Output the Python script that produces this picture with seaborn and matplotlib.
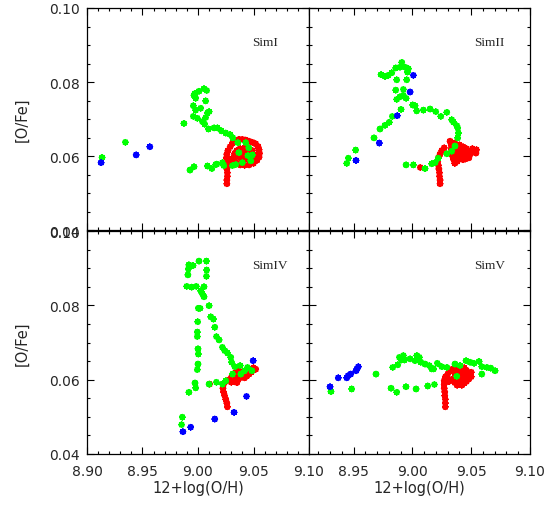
import numpy as np
import pandas as pd
import matplotlib
matplotlib.use("Agg")
import matplotlib.pyplot as plt
from matplotlib.ticker import MultipleLocator, FixedLocator
import seaborn as sns

sns.set_style("ticks")
plt.rcParams['font.family'] = ['DejaVu Sans']

# ---------------- data ----------------
panel_names = ["SimI", "SimII", "SimIV", "SimV"]

# SimI
simI_red_x = [9.026, 9.026, 9.0265, 9.0265, 9.026, 9.0265, 9.027, 9.0255, 9.026, 9.027, 9.029, 9.031,
              9.034, 9.037, 9.040, 9.043, 9.046, 9.049, 9.052, 9.054, 9.055, 9.0555, 9.055, 9.053,
              9.050, 9.046, 9.042, 9.038, 9.035, 9.033, 9.032, 9.033, 9.035, 9.038, 9.042, 9.045,
              9.047, 9.047, 9.045, 9.041, 9.038, 9.037, 9.040, 9.043, 9.030, 9.028, 9.049, 9.051, 9.050]
simI_red_y = [0.0525, 0.0535, 0.0545, 0.0555, 0.0565, 0.0575, 0.0585, 0.0595, 0.0605, 0.0615, 0.0625, 0.0635,
              0.0642, 0.0645, 0.0645, 0.0643, 0.0640, 0.0637, 0.0633, 0.0626, 0.0617, 0.0607, 0.0597, 0.0588,
              0.0580, 0.0576, 0.0575, 0.0576, 0.0580, 0.0588, 0.0597, 0.0607, 0.0615, 0.0620, 0.0622, 0.0618,
              0.0610, 0.0600, 0.0592, 0.0590, 0.0595, 0.0603, 0.0608, 0.0605, 0.0580, 0.0592, 0.0615, 0.0603, 0.0593]
simI_green_x = [8.9136, 8.9346, 8.9873, 8.9964, 8.9979, 8.9973, 9.0009, 9.0054, 9.0078, 9.0069, 8.9958, 8.9979,
                9.0024, 8.9958, 8.9994, 9.0040, 9.0085, 9.0100, 9.0069, 9.0060, 9.0094, 9.0145, 9.0175, 9.0211,
                9.0250, 9.0289, 9.0313, 8.9928, 8.9964, 9.0085, 9.0124, 9.0169, 9.0160, 9.0232, 9.0220,
                9.0359, 9.0430, 9.0458, 9.0368, 9.0450, 9.0400, 9.0340, 9.0310, 9.0476, 9.0490]
simI_green_y = [0.0596, 0.0637, 0.0688, 0.0764, 0.0756, 0.0769, 0.0775, 0.0782, 0.0777, 0.0749, 0.0736, 0.0724,
                0.0729, 0.0707, 0.0702, 0.0693, 0.0716, 0.0720, 0.0704, 0.0686, 0.0673, 0.0676, 0.0676, 0.0668,
                0.0662, 0.0658, 0.0649, 0.0562, 0.0571, 0.0573, 0.0566, 0.0578, 0.0577, 0.0574, 0.0582,
                0.0636, 0.0636, 0.0622, 0.0609, 0.0601, 0.0582, 0.0577, 0.0574, 0.0587, 0.0603]
simI_blue_x = [8.9127, 8.9443, 8.9566]
simI_blue_y = [0.0582, 0.0603, 0.0625]

# SimII
simII_red_x = [9.0067, 9.0235, 9.0235, 9.023, 9.023, 9.0225, 9.022, 9.0215, 9.022, 9.0235, 9.025, 9.027,
               9.032, 9.033, 9.033, 9.034, 9.034, 9.035, 9.036, 9.038, 9.037, 9.037, 9.037, 9.036,
               9.040, 9.040, 9.040, 9.040, 9.043, 9.043, 9.043, 9.043, 9.046, 9.046, 9.046, 9.049,
               9.049, 9.052, 9.054, 9.0545, 9.051, 9.048, 9.045]
simII_red_y = [0.0569, 0.0525, 0.0535, 0.0545, 0.0555, 0.0565, 0.0575, 0.0585, 0.0595, 0.0605, 0.0615, 0.0622,
               0.0640, 0.0630, 0.0620, 0.0610, 0.0600, 0.0590, 0.0580, 0.0585, 0.0598, 0.0612, 0.0625, 0.0635,
               0.0630, 0.0618, 0.0605, 0.0592, 0.0590, 0.0603, 0.0615, 0.0625, 0.0620, 0.0610, 0.0600, 0.0612,
               0.0605, 0.0612, 0.0608, 0.0617, 0.0620, 0.0595, 0.0592]
simII_green_x = [8.9441, 8.9455, 8.9517, 8.9673, 8.9724, 8.9767, 8.9803, 8.9829, 8.9903, 8.9866, 8.9894, 8.9923,
                 8.9946, 8.9858, 8.9923, 8.9733, 8.9767, 8.9795, 8.9824, 8.9866, 8.9858, 8.9894, 8.9909, 8.9937,
                 8.9957, 8.9951, 8.9966, 9.0002, 9.0022, 9.0036, 9.0093, 9.0150, 9.0198, 9.0241, 9.0292,
                 9.0334, 9.0348, 9.0377, 9.0385, 9.0391, 9.0385, 9.0362, 9.0334, 9.0292, 9.0220, 9.0192,
                 9.0164, 9.0107, 9.0008, 8.9946]
simII_green_y = [0.0580, 0.0594, 0.0616, 0.0649, 0.0673, 0.0683, 0.0691, 0.0707, 0.0726, 0.0753, 0.0760, 0.0764,
                 0.0756, 0.0778, 0.0780, 0.0820, 0.0815, 0.0818, 0.0825, 0.0806, 0.0838, 0.0840, 0.0853, 0.0840,
                 0.0827, 0.0806, 0.0836, 0.0738, 0.0736, 0.0722, 0.0724, 0.0727, 0.0720, 0.0707, 0.0718,
                 0.0698, 0.0692, 0.0682, 0.0676, 0.0662, 0.0649, 0.0627, 0.0613, 0.0606, 0.0594, 0.0582,
                 0.0579, 0.0566, 0.0576, 0.0576]
simII_blue_x = [9.0008, 8.9980, 8.9871, 8.9718, 8.9520]
simII_blue_y = [0.0818, 0.0773, 0.0709, 0.0635, 0.0588]

# SimIV
simIV_red_x = [9.0265, 9.026, 9.025, 9.024, 9.023, 9.0225, 9.023, 9.025, 9.028, 9.030, 9.032, 9.032,
               9.034, 9.034, 9.036, 9.036, 9.036, 9.038, 9.038, 9.040, 9.040, 9.042, 9.042, 9.044,
               9.044, 9.046, 9.046, 9.048, 9.048, 9.050, 9.050, 9.052, 9.030, 9.033, 9.035, 9.0105]
simIV_red_y = [0.0527, 0.0537, 0.0547, 0.0557, 0.0567, 0.0577, 0.0587, 0.0595, 0.0600, 0.0605, 0.0602, 0.0612,
               0.0608, 0.0620, 0.0600, 0.0613, 0.0625, 0.0605, 0.0618, 0.0610, 0.0622, 0.0605, 0.0615, 0.0610,
               0.0620, 0.0615, 0.0625, 0.0620, 0.0628, 0.0625, 0.0632, 0.0628, 0.0593, 0.0597, 0.0592, 0.0588]
simIV_green_x = [8.9852, 8.9859, 8.9918, 8.9979, 8.9973, 8.9994, 9.0000, 9.0003, 9.0000, 8.9994, 8.9994, 8.9997,
                 9.0003, 9.0018, 8.9985, 8.9943, 8.9898, 8.9909, 8.9913, 8.9918, 8.9955, 9.0009, 9.0076, 9.0078,
                 9.0076, 9.0054, 9.0024, 9.0040, 9.0054, 9.0100, 9.0115, 9.0139, 9.0151, 9.0166, 9.0190,
                 9.0220, 9.0241, 9.0265, 9.0295, 9.0302, 9.0332, 9.0380, 9.0446, 9.0485, 9.0420, 9.0311,
                 9.0386, 9.0100, 9.0166, 9.0220, 9.0250]
simIV_green_y = [0.0479, 0.0499, 0.0566, 0.0578, 0.0591, 0.0627, 0.0642, 0.0669, 0.0683, 0.0716, 0.0728, 0.0756,
                 0.0792, 0.0792, 0.0851, 0.0849, 0.0851, 0.0882, 0.0898, 0.0909, 0.0907, 0.0919, 0.0919, 0.0895,
                 0.0878, 0.0850, 0.0839, 0.0831, 0.0823, 0.0799, 0.0769, 0.0763, 0.0741, 0.0716, 0.0707,
                 0.0687, 0.0678, 0.0672, 0.0660, 0.0647, 0.0635, 0.0638, 0.0633, 0.0624, 0.0624, 0.0615,
                 0.0615, 0.0588, 0.0593, 0.0588, 0.0597]
simIV_blue_x = [8.9864, 8.9934, 9.0151, 9.0325, 9.0437, 9.0497]
simIV_blue_y = [0.0460, 0.0472, 0.0494, 0.0512, 0.0555, 0.0651]

# SimV
simV_red_x = [9.028, 9.028, 9.028, 9.0275, 9.0275, 9.027, 9.027, 9.027, 9.028, 9.030, 9.032, 9.034,
              9.036, 9.036, 9.036, 9.036, 9.038, 9.038, 9.038, 9.038, 9.040, 9.040, 9.040, 9.040,
              9.042, 9.042, 9.042, 9.042, 9.044, 9.044, 9.044, 9.044, 9.046, 9.046, 9.046, 9.048,
              9.048, 9.050, 9.050, 9.033, 9.031]
simV_red_y = [0.0527, 0.0537, 0.0547, 0.0557, 0.0567, 0.0577, 0.0587, 0.0597, 0.0607, 0.0615, 0.0622, 0.0628,
              0.0635, 0.0620, 0.0605, 0.0592, 0.0585, 0.0598, 0.0612, 0.0628, 0.0635, 0.0620, 0.0605, 0.0590,
              0.0585, 0.0598, 0.0612, 0.0628, 0.0632, 0.0618, 0.0603, 0.0590, 0.0595, 0.0610, 0.0625, 0.0615,
              0.0602, 0.0608, 0.0620, 0.0600, 0.0595]
simV_green_x = [8.9307, 8.9483, 8.9690, 8.9818, 8.9866, 8.9945, 9.0031, 9.0130, 9.0187, 8.9832, 8.9875, 8.9889,
                8.9923, 8.9932, 8.9905, 8.9980, 9.0023, 9.0037, 9.0059, 9.0071, 9.0107, 9.0144, 9.0164,
                9.0180, 9.0212, 9.0249, 9.0292, 9.0362, 9.0405, 9.0456, 9.0490, 9.0524, 9.0567, 9.0590,
                9.0632, 9.0666, 9.0703, 9.0590, 9.0377]
simV_green_y = [0.0568, 0.0575, 0.0615, 0.0577, 0.0566, 0.0581, 0.0575, 0.0583, 0.0587, 0.0633, 0.0640, 0.0660,
                0.0665, 0.0653, 0.0653, 0.0656, 0.0651, 0.0665, 0.0660, 0.0647, 0.0642, 0.0638, 0.0629,
                0.0629, 0.0644, 0.0635, 0.0633, 0.0642, 0.0638, 0.0651, 0.0647, 0.0644, 0.0649, 0.0635,
                0.0633, 0.0631, 0.0624, 0.0615, 0.0609]
simV_blue_x = [8.9299, 8.9369, 8.9441, 8.9454, 8.9475, 8.9520, 8.9540, 8.9530]
simV_blue_y = [0.0581, 0.0605, 0.0605, 0.0611, 0.0615, 0.0624, 0.0635, 0.0630]

xticks_left = [8.90, 8.95, 9.00, 9.05, 9.10]
xticks_right = [8.95, 9.00, 9.05, 9.10]
yticks = [0.04, 0.06, 0.08, 0.10]

def make_df(rx, ry, gx, gy, bx, by):
    return pd.DataFrame({
        "x": list(rx) + list(gx) + list(bx),
        "y": list(ry) + list(gy) + list(by),
        "grp": ["red"] * len(rx) + ["green"] * len(gx) + ["blue"] * len(bx),
    })

dfs = [
    make_df(simI_red_x, simI_red_y, simI_green_x, simI_green_y, simI_blue_x, simI_blue_y),
    make_df(simII_red_x, simII_red_y, simII_green_x, simII_green_y, simII_blue_x, simII_blue_y),
    make_df(simIV_red_x, simIV_red_y, simIV_green_x, simIV_green_y, simIV_blue_x, simIV_blue_y),
    make_df(simV_red_x, simV_red_y, simV_green_x, simV_green_y, simV_blue_x, simV_blue_y),
]
palette = {"red": "#ff0000", "green": "#00ff00", "blue": "#0000ff"}

# ---------------- figure ----------------
W, H = 554, 506
fig = plt.figure(figsize=(W / 100, H / 100), dpi=100)

def ax_rect(x0, y0, x1, y1):
    return [x0 / W, 1 - y1 / H, (x1 - x0) / W, (y1 - y0) / H]

rects = [ax_rect(87, 9, 309, 231), ax_rect(309, 9, 530, 231),
         ax_rect(87, 232, 309, 455), ax_rect(309, 232, 530, 455)]
xlims = [(8.90, 9.10), (8.912, 9.10), (8.90, 9.10), (8.912, 9.10)]

asterisk = (8, 2, 0)
for i, (df, r, xl, name) in enumerate(zip(dfs, rects, xlims, panel_names)):
    ax = fig.add_axes(r)
    sns.scatterplot(data=df, x="x", y="y", hue="grp", palette=palette, marker=asterisk,
                    s=12, linewidth=1.4, legend=False, ax=ax)
    ax.set_xlim(*xl)
    ax.set_ylim(0.04, 0.10)
    ax.xaxis.set_major_locator(FixedLocator(xticks_left if i % 2 == 0 else xticks_right))
    ax.xaxis.set_minor_locator(MultipleLocator(0.01))
    ax.yaxis.set_major_locator(FixedLocator(yticks))
    ax.yaxis.set_minor_locator(MultipleLocator(0.005))
    ax.tick_params(which="both", direction="in", top=True, right=True, bottom=True, left=True,
                   width=0.8, color="black")
    ax.tick_params(which="major", length=5)
    ax.tick_params(which="minor", length=2.5)
    ax.tick_params(axis="x", which="major", pad=7, labelsize=10)
    ax.tick_params(axis="y", which="major", pad=5, labelsize=10)
    for sp in ax.spines.values():
        sp.set_linewidth(0.9)
        sp.set_color("black")
    if i % 2 == 0:
        ax.set_yticklabels(["%.2f" % v for v in yticks])
        ax.set_ylabel("[O/Fe]", fontsize=10.5, labelpad=14)
    else:
        ax.set_yticklabels([])
        ax.set_ylabel("")
    if i >= 2:
        ax.set_xticklabels(["%.2f" % v for v in (xticks_left if i % 2 == 0 else xticks_right)])
        ax.set_xlabel("12+log(O/H)", fontsize=10.5, labelpad=2)
    else:
        ax.set_xticklabels([])
        ax.set_xlabel("")
    ax.text(0.745, 0.846, name, transform=ax.transAxes, ha="left", va="center",
            fontsize=9.5, family=["Liberation Serif"])

fig.savefig("out.png", dpi=100)
